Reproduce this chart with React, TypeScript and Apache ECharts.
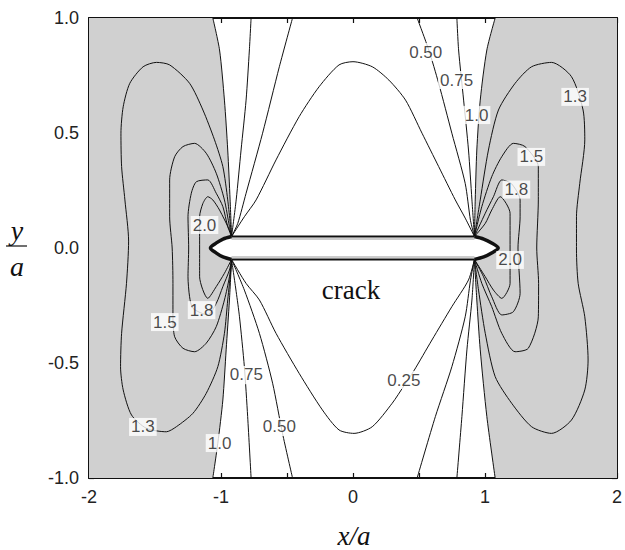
import React, { useEffect, useRef } from 'react';
import * as echarts from 'echarts';

type P = [number, number];

// contour levels (ratio of stresses) drawn around the crack
const LEVELS = ['0.25', '0.50', '0.75', '1.0', '1.3', '1.5', '1.8', '2.0'];

// axis ticks
const X_TICKS = [-2, -1, 0, 1, 2];
const Y_TICKS = [-1.0, -0.5, 0.0, 0.5, 1.0];

// ---- open contours that run from a crack corner to the plot edge ----
const left100Up: P[] = [[-0.92, 0.05], [-0.931, 0.209], [-0.949, 0.426], [-0.974, 0.643], [-1.011, 0.861], [-1.062, 1.0]];
const left100Dn: P[] = [[-0.92, -0.05], [-0.936, -0.226], [-0.961, -0.443], [-0.986, -0.661], [-1.024, -0.849], [-1.062, -1.0]];
const left075Up: P[] = [[-0.92, 0.05], [-0.885, 0.209], [-0.848, 0.426], [-0.81, 0.643], [-0.785, 0.861], [-0.772, 1.0]];
const left075Dn: P[] = [[-0.92, -0.05], [-0.885, -0.19], [-0.86, -0.299], [-0.823, -0.516], [-0.798, -0.733], [-0.772, -1.0]];
const left050Up: P[] = [[-0.92, 0.05], [-0.873, 0.107], [-0.81, 0.238], [-0.685, 0.499], [-0.558, 0.788], [-0.458, 1.0]];
const left050Dn: P[] = [[-0.92, -0.05], [-0.823, -0.183], [-0.709, -0.371], [-0.609, -0.588], [-0.534, -0.806], [-0.458, -1.0]];

const right100Up: P[] = [[0.92, 0.05], [0.926, 0.209], [0.938, 0.426], [0.964, 0.643], [1.014, 0.861], [1.077, 1.0]];
const right100Dn: P[] = [[0.92, -0.05], [0.938, -0.226], [0.964, -0.443], [1.014, -0.733], [1.077, -1.0]];
const right075Up: P[] = [[0.92, 0.05], [0.901, 0.209], [0.875, 0.426], [0.838, 0.643], [0.8, 0.861], [0.787, 1.0]];
const right075Dn: P[] = [[0.92, -0.05], [0.901, -0.226], [0.863, -0.443], [0.825, -0.733], [0.787, -1.0]];
const right050Up: P[] = [[0.92, 0.05], [0.89, 0.12], [0.85, 0.281], [0.749, 0.499], [0.649, 0.716], [0.574, 0.861], [0.486, 1.0]];
const right050Dn: P[] = [[0.92, -0.05], [0.89, -0.14], [0.85, -0.299], [0.749, -0.516], [0.624, -0.733], [0.486, -1.0]];

// ---- 0.25: dome above and bowl below the crack ----
const c025Up: P[] = [[-0.92, 0.05], [-0.823, 0.136], [-0.734, 0.209], [-0.583, 0.383], [-0.408, 0.571], [-0.257, 0.701], [-0.106, 0.796], [0, 0.81], [0.146, 0.788], [0.272, 0.73], [0.398, 0.643], [0.523, 0.499], [0.649, 0.354], [0.775, 0.209], [0.85, 0.13], [0.92, 0.05]];
const c025Dn: P[] = [[-0.92, -0.05], [-0.81, -0.154], [-0.709, -0.226], [-0.583, -0.371], [-0.408, -0.545], [-0.232, -0.704], [-0.106, -0.791], [0.008, -0.806], [0.146, -0.777], [0.297, -0.675], [0.385, -0.6], [0.46, -0.535], [0.598, -0.4], [0.749, -0.255], [0.875, -0.139], [0.92, -0.05]];

// ---- closed loops around each crack tip ----
const left130: P[] = [[-0.92, 0.05], [-0.949, 0.209], [-0.986, 0.354], [-1.049, 0.47], [-1.137, 0.6], [-1.238, 0.716], [-1.389, 0.796], [-1.489, 0.807], [-1.59, 0.788], [-1.691, 0.716], [-1.741, 0.614], [-1.758, 0.499], [-1.753, 0.354], [-1.728, 0.209], [-1.7, 0.03], [-1.716, -0.154], [-1.753, -0.371], [-1.761, -0.516], [-1.741, -0.617], [-1.678, -0.726], [-1.565, -0.784], [-1.414, -0.799], [-1.338, -0.777], [-1.213, -0.719], [-1.112, -0.632], [-1.024, -0.516], [-0.974, -0.371], [-0.949, -0.226], [-0.923, -0.081], [-0.92, -0.05]];
const left150: P[] = [[-0.92, 0.05], [-0.936, 0.093], [-0.974, 0.209], [-1.036, 0.325], [-1.112, 0.412], [-1.2, 0.455], [-1.288, 0.441], [-1.351, 0.397], [-1.389, 0.296], [-1.389, 0.136], [-1.37, 0.0], [-1.364, -0.154], [-1.364, -0.299], [-1.351, -0.386], [-1.288, -0.436], [-1.2, -0.451], [-1.112, -0.414], [-1.036, -0.342], [-0.974, -0.226], [-0.936, -0.125], [-0.92, -0.05]];
const left180: P[] = [[-0.92, 0.05], [-0.949, 0.093], [-0.986, 0.18], [-1.036, 0.238], [-1.1, 0.296], [-1.187, 0.288], [-1.225, 0.238], [-1.25, 0.136], [-1.245, 0.0], [-1.25, -0.125], [-1.238, -0.212], [-1.213, -0.262], [-1.1, -0.291], [-1.036, -0.241], [-0.986, -0.168], [-0.936, -0.096], [-0.92, -0.05]];
const left200: P[] = [[-0.92, 0.05], [-0.936, 0.078], [-1.011, 0.165], [-1.062, 0.209], [-1.1, 0.223], [-1.137, 0.194], [-1.162, 0.136], [-1.162, 0.0], [-1.162, -0.125], [-1.1, -0.219], [-1.036, -0.168], [-0.974, -0.11], [-0.92, -0.05]];

const right130: P[] = [[0.92, 0.05], [0.964, 0.209], [1.026, 0.426], [1.102, 0.6], [1.228, 0.716], [1.353, 0.788], [1.504, 0.807], [1.655, 0.745], [1.743, 0.6], [1.756, 0.47], [1.718, 0.281], [1.693, 0.136], [1.693, -0.009], [1.706, -0.154], [1.756, -0.299], [1.781, -0.487], [1.756, -0.617], [1.655, -0.748], [1.504, -0.806], [1.353, -0.777], [1.202, -0.675], [1.077, -0.559], [1.002, -0.371], [0.951, -0.183], [0.92, -0.05]];
const right150: P[] = [[0.92, 0.05], [0.976, 0.18], [1.051, 0.31], [1.127, 0.397], [1.215, 0.455], [1.303, 0.441], [1.404, 0.354], [1.404, 0.209], [1.392, 0.0], [1.406, -0.154], [1.404, -0.299], [1.328, -0.436], [1.228, -0.451], [1.127, -0.371], [1.051, -0.255], [0.976, -0.154], [0.92, -0.05]];
const right180: P[] = [[0.92, 0.05], [1.002, 0.151], [1.064, 0.223], [1.127, 0.296], [1.2, 0.28], [1.266, 0.209], [1.266, 0.136], [1.25, 0.0], [1.266, -0.197], [1.215, -0.277], [1.127, -0.291], [1.051, -0.212], [0.989, -0.125], [0.92, -0.05]];
const right200: P[] = [[0.92, 0.05], [1.002, 0.107], [1.051, 0.165], [1.115, 0.223], [1.19, 0.151], [1.19, 0.0], [1.19, -0.154], [1.127, -0.219], [1.064, -0.183], [1.002, -0.125], [0.92, -0.05]];

// crack outline: straight faces with pointed ends
const crackTop: P[] = [[-0.92, 0.05], [0.92, 0.05]];
const crackBottom: P[] = [[-0.92, -0.05], [0.92, -0.05]];
const crackRightTip: P[] = [[0.92, 0.05], [0.99, 0.039], [1.05, 0.022], [1.1, 0.0], [1.05, -0.022], [0.99, -0.039], [0.92, -0.05]];
const crackLeftTip: P[] = [[-0.92, -0.05], [-0.985, -0.039], [-1.035, -0.022], [-1.08, 0.0], [-1.035, 0.022], [-0.985, 0.039], [-0.92, 0.05]];

// contour label spots: [x, y, level]
const labelSpots: [number, number, string][] = [
  [0.551, 0.852, '0.50'],
  [0.785, 0.73, '0.75'],
  [0.936, 0.578, '1.0'],
  [1.683, 0.657, '1.3'],
  [1.351, 0.396, '1.5'],
  [1.238, 0.254, '1.8'],
  [1.19, -0.052, '2.0'],
  [-1.125, 0.1, '2.0'],
  [-1.147, -0.27, '1.8'],
  [-1.426, -0.322, '1.5'],
  [-1.592, -0.778, '1.3'],
  [-1.011, -0.848, '1.0'],
  [-0.808, -0.552, '0.75'],
  [-0.558, -0.778, '0.50'],
  [0.385, -0.574, '0.25'],
];

// contour lines grouped by level
const contours: { level: string; lines: P[][] }[] = [
  { level: LEVELS[0], lines: [c025Up, c025Dn] },
  { level: LEVELS[1], lines: [left050Up, left050Dn, right050Up, right050Dn] },
  { level: LEVELS[2], lines: [left075Up, left075Dn, right075Up, right075Dn] },
  { level: LEVELS[3], lines: [left100Up, left100Dn, right100Up, right100Dn] },
  { level: LEVELS[4], lines: [left130, right130] },
  { level: LEVELS[5], lines: [left150, right150] },
  { level: LEVELS[6], lines: [left180, right180] },
  { level: LEVELS[7], lines: [left200, right200] },
];

// shaded zones (ratio above 1.0): bounded by the 1.0 contour and the crack tip
const shadeLeft: P[] = [
  [-2, 1],
  ...left100Up.slice().reverse(),
  [-1.08, 0],
  ...left100Dn,
  [-2, -1],
];
const shadeRight: P[] = [
  [2, 1],
  ...right100Up.slice().reverse(),
  [1.1, 0],
  ...right100Dn,
  [2, -1],
];
const shades = [shadeLeft, shadeRight];

const SANS = '"Liberation Sans", Arial, sans-serif';
const SERIF = '"Liberation Serif", "Times New Roman", serif';
const INK = '#111';

export default function App() {
  const ref = useRef<HTMLDivElement>(null);

  useEffect(() => {
    if (!ref.current) return;
    const chart = echarts.init(ref.current, undefined, { renderer: 'svg' });

    const axisCommon = {
      type: 'value' as const,
      splitLine: { show: false },
      axisLine: { show: true, onZero: false, lineStyle: { color: INK, width: 2 } },
      axisTick: { show: true, inside: true, length: 5, lineStyle: { color: INK, width: 1.2 } },
    };

    const lineSeries: any[] = [];
    contours.forEach((c) => {
      c.lines.forEach((pts) => {
        lineSeries.push({
          type: 'line',
          name: c.level,
          data: pts,
          showSymbol: false,
          symbol: 'none',
          smooth: 0.25,
          silent: true,
          z: 3,
          lineStyle: { color: INK, width: 1 },
        });
      });
    });

    const option: any = {
      animation: false,
      backgroundColor: '#fff',
      grid: { left: 89, right: 6, top: 18, bottom: 72, containLabel: false },
      xAxis: [
        {
          ...axisCommon,
          min: -2,
          max: 2,
          interval: 0.5,
          position: 'bottom',
          axisLabel: {
            fontSize: 18,
            fontFamily: SANS,
            color: '#222',
            margin: 10,
            hideOverlap: false,
            formatter: (v: number) => {
              const t = X_TICKS.find((k) => Math.abs(k - v) < 1e-9);
              return t === undefined ? '' : String(t);
            },
          },
        },
        {
          ...axisCommon,
          min: -2,
          max: 2,
          interval: 0.5,
          position: 'top',
          axisLabel: { show: false },
        },
      ],
      yAxis: [
        {
          ...axisCommon,
          min: -1,
          max: 1,
          interval: 0.25,
          position: 'left',
          axisLabel: {
            fontSize: 18,
            fontFamily: SANS,
            color: '#222',
            margin: 10,
            hideOverlap: false,
            formatter: (v: number) => {
              const t = Y_TICKS.find((k) => Math.abs(k - v) < 1e-9);
              return t === undefined ? '' : t.toFixed(1);
            },
          },
        },
        {
          ...axisCommon,
          min: -1,
          max: 1,
          interval: 0.25,
          position: 'right',
          axisLabel: { show: false },
        },
      ],
      series: [
        {
          type: 'custom',
          name: 'shade',
          silent: true,
          z: 1,
          data: shades.map((s) => s[0]),
          renderItem: (params: any, api: any) => {
            const pts = shades[params.dataIndex].map((p) => api.coord(p));
            return {
              type: 'polygon',
              shape: { points: pts },
              style: { fill: '#d0d0d0', stroke: 'none' },
            };
          },
        },
        ...lineSeries,
        {
          type: 'custom',
          name: 'crack',
          silent: true,
          z: 5,
          data: [[0, 0]],
          renderItem: (_params: any, api: any) => {
            const c = (arr: P[]) => arr.map((p) => api.coord(p));
            const top = c(crackTop);
            const bot = c(crackBottom);
            const rt = c(crackRightTip);
            const lt = c(crackLeftTip);
            const outline = [...top, ...rt.slice(1, -1), ...bot.slice().reverse(), ...lt.slice(1, -1)];
            const shift = (arr: number[][], dy: number) => arr.map((p) => [p[0], p[1] + dy]);
            return {
              type: 'group',
              children: [
                { type: 'polygon', shape: { points: outline }, style: { fill: '#fff', stroke: 'none' } },
                { type: 'polyline', shape: { points: shift(top, 2.5) }, style: { stroke: '#999', lineWidth: 1, fill: 'none' } },
                { type: 'polyline', shape: { points: shift(bot, -2.5) }, style: { stroke: '#999', lineWidth: 1, fill: 'none' } },
                { type: 'polyline', shape: { points: top }, style: { stroke: INK, lineWidth: 2, fill: 'none' } },
                { type: 'polyline', shape: { points: bot }, style: { stroke: INK, lineWidth: 2, fill: 'none' } },
                { type: 'polyline', shape: { points: rt, smooth: 0.3 }, style: { stroke: INK, lineWidth: 3.5, fill: 'none' } },
                { type: 'polyline', shape: { points: lt, smooth: 0.3 }, style: { stroke: INK, lineWidth: 3.5, fill: 'none' } },
              ],
            };
          },
        },
        {
          type: 'scatter',
          name: 'levels',
          silent: true,
          z: 6,
          symbolSize: 1,
          itemStyle: { color: 'rgba(0,0,0,0)' },
          data: labelSpots.map((s) => ({ value: [s[0], s[1]], name: s[2] })),
          label: {
            show: true,
            position: 'inside',
            formatter: '{b}',
            fontSize: 17,
            fontFamily: SANS,
            color: '#1a1a1a',
            textBorderWidth: 0,
            textBorderColor: 'transparent',
            backgroundColor: '#fff',
            padding: [1, 2, 0, 2],
          },
        },
      ],
      graphic: [
        {
          type: 'text',
          x: 351,
          y: 290,
          silent: true,
          style: { text: 'crack', font: `27px ${SERIF}`, fill: '#111', textAlign: 'center', textVerticalAlign: 'middle', align: 'center', verticalAlign: 'middle' },
        },
        {
          type: 'text',
          x: 354,
          y: 536,
          silent: true,
          style: { text: 'x/a', font: `italic 27px ${SERIF}`, fill: '#111', textAlign: 'center', textVerticalAlign: 'middle', align: 'center', verticalAlign: 'middle' },
        },
        {
          type: 'text',
          x: 17,
          y: 230,
          silent: true,
          style: { text: 'y', font: `italic 28px ${SERIF}`, fill: '#111', textAlign: 'center', textVerticalAlign: 'middle', align: 'center', verticalAlign: 'middle' },
        },
        {
          type: 'line',
          silent: true,
          shape: { x1: 6, y1: 246, x2: 27, y2: 246 },
          style: { stroke: '#111', lineWidth: 1.2 },
        },
        {
          type: 'text',
          x: 17,
          y: 266,
          silent: true,
          style: { text: 'a', font: `italic 28px ${SERIF}`, fill: '#111', textAlign: 'center', textVerticalAlign: 'middle', align: 'center', verticalAlign: 'middle' },
        },
      ],
    };

    chart.setOption(option);
    return () => chart.dispose();
  }, []);

  return (
    <div
      ref={ref}
      style={{ position: 'fixed', left: 0, top: 0, width: 625, height: 550, background: '#fff' }}
    />
  );
}
